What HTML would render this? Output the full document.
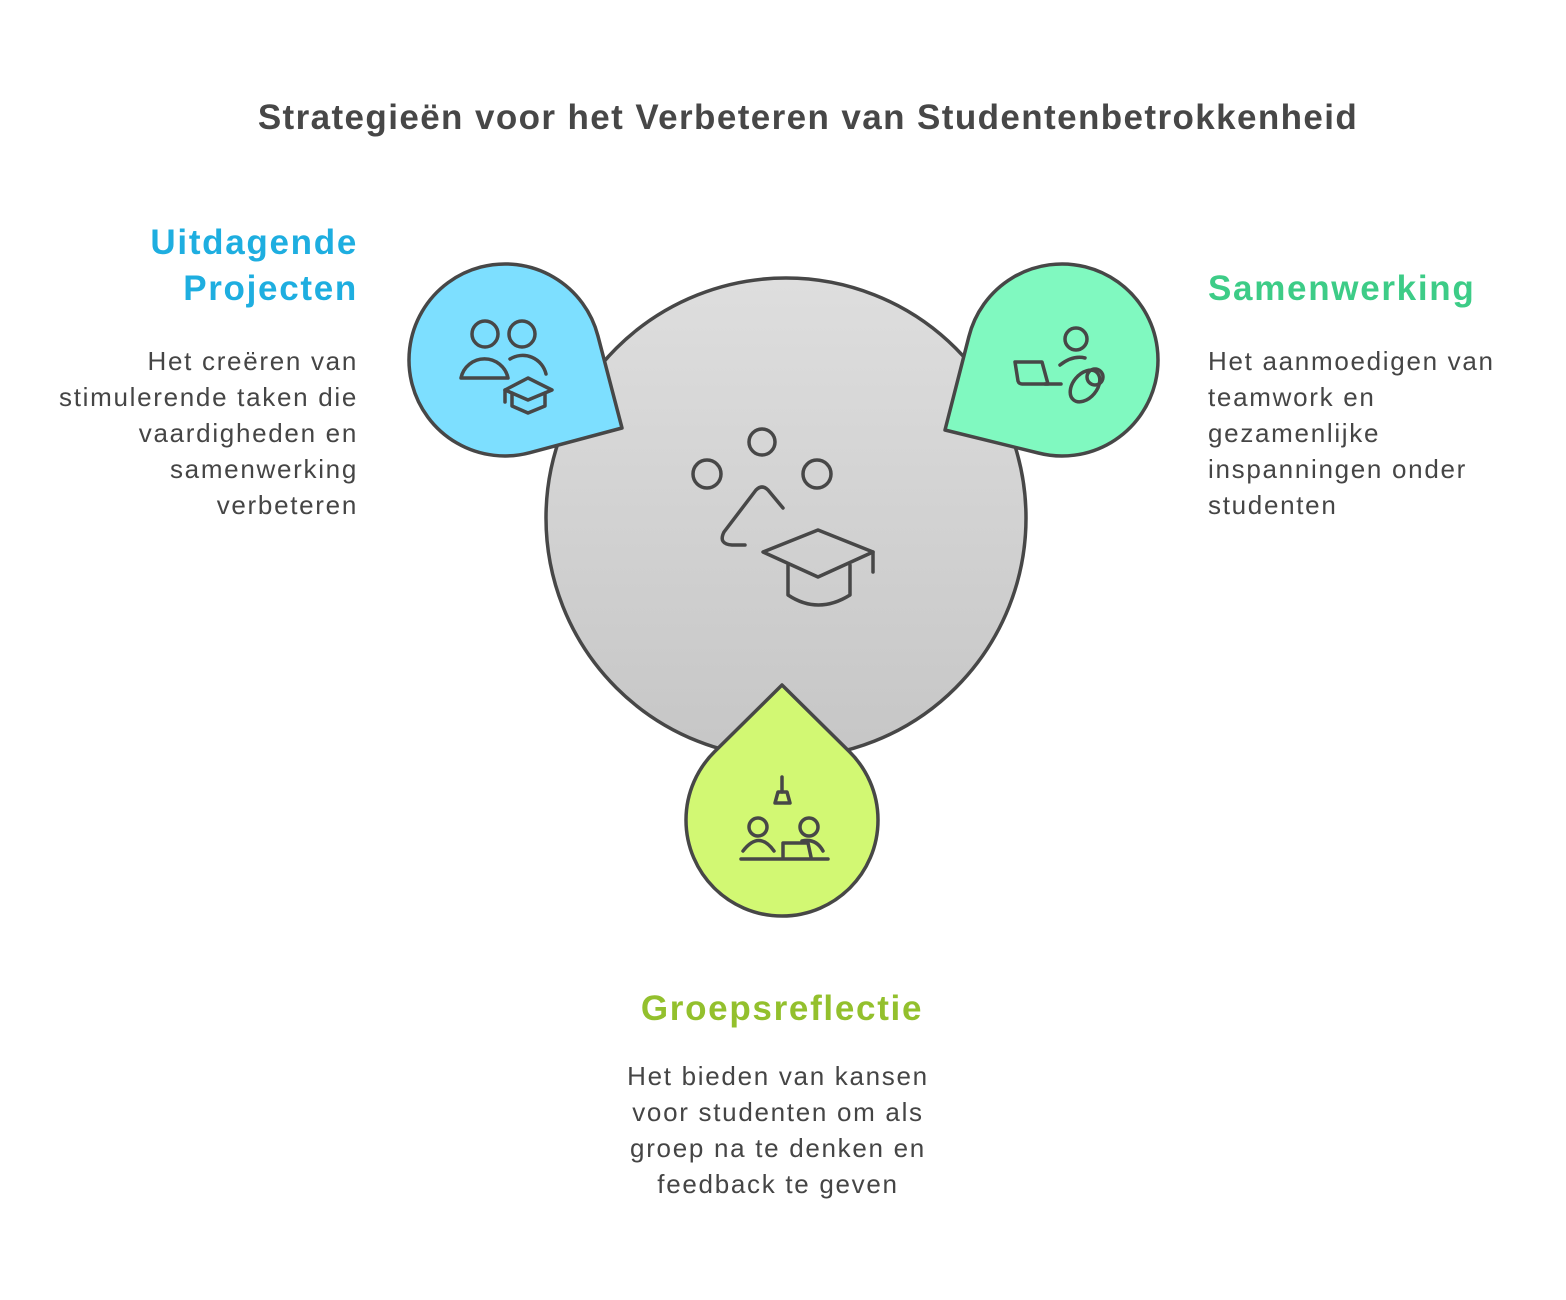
<!DOCTYPE html>
<html><head><meta charset="utf-8"><style>
body{margin:0;width:1566px;height:1300px;background:#fff;font-family:"Liberation Sans",sans-serif;position:relative;overflow:hidden}
.t{position:absolute;white-space:nowrap}
h1{position:absolute;left:0;width:1616px;top:98px;margin:0;text-align:center;font-size:35px;font-weight:bold;color:#474747;letter-spacing:1.4px}
.h{font-weight:bold;font-size:35px;line-height:46px;letter-spacing:1.7px}
.b{font-size:26px;line-height:36px;color:#454545;letter-spacing:1.7px}
</style></head><body>
<h1>Strategieën voor het Verbeteren van Studentenbetrokkenheid</h1>
<svg width="1566" height="1300" style="position:absolute;left:0;top:0">
<defs><linearGradient id="g" x1="0" y1="0" x2="0" y2="1"><stop offset="0" stop-color="#dedede"/><stop offset="1" stop-color="#c6c6c6"/></linearGradient></defs>
<g stroke="#474747" stroke-width="3.5" stroke-linecap="round" stroke-linejoin="round">
<circle cx="786" cy="518" r="240" fill="url(#g)"/>
<path d="M597.9 335.8 L622 428 L529.8 452.7 A96 96 0 1 1 597.9 335.8Z" fill="#7ddfff"/>
<path d="M968.8 336.9 L945 430 L1038.3 453 A96 96 0 1 0 968.8 336.9Z" fill="#80f9c0"/>
<path d="M849.5 751.8 L782 685 L714.5 751.8 A96 96 0 1 0 849.5 751.8Z" fill="#d2f873"/>
<g fill="none">
<circle cx="762" cy="442" r="13"/><circle cx="707" cy="474" r="14"/><circle cx="817" cy="474" r="14"/>
<path d="M783 508 L768 490 Q762 484 756 490 L724 532 Q718 544 732 545 L745 545"/>
<path d="M763 552 L818 530 L873 552 L818 577Z"/><path d="M873 552 L873 572"/>
<path d="M788 565 L788 595 Q818 615 850 595 L850 565"/>
<circle cx="485" cy="334" r="13"/><circle cx="522" cy="334" r="13"/>
<path d="M461 378 A24 24 0 0 1 508 378 Z"/><path d="M510 359 A24 24 0 0 1 546 374"/>
<path d="M505 390 L528 378 L552 390 L528 400Z"/><path d="M505 390 L505 402"/><path d="M512 393 L512 406 L528 413 L545 406 L545 393"/>
<circle cx="1076" cy="339" r="11"/><path d="M1060 365 Q1073 355 1085 358"/>
<path d="M1015 362 L1042 362 L1048 384 L1022 384 Q1019 384 1018 381Z"/><path d="M1045 384 L1061 384"/>
<ellipse cx="1085" cy="386" rx="12" ry="18" transform="rotate(40 1085 386)"/><circle cx="1095" cy="377" r="8"/>
<path d="M782 777 L782 792"/><path d="M775 803 L778 792 L787 792 L790 803Z"/>
<circle cx="758" cy="827" r="9"/><path d="M743 851 Q759 830 774 851"/><circle cx="809" cy="827" r="9"/><path d="M802 841 Q816 838 823 851"/>
<path d="M783 857 L783 843 L808 843 L811 857"/><path d="M741 859 L828 859"/>
</g></g></svg>
<div class="t h" style="right:1208px;top:220px;text-align:right;color:#1eaee0">Uitdagende<br>Projecten</div>
<div class="t b" style="right:1208px;top:343px;text-align:right">Het creëren van<br>stimulerende taken die<br>vaardigheden en<br>samenwerking<br>verbeteren</div>
<div class="t h" style="left:1208px;top:266px;color:#3dcc87">Samenwerking</div>
<div class="t b" style="left:1208px;top:343px">Het aanmoedigen van<br>teamwork en<br>gezamenlijke<br>inspanningen onder<br>studenten</div>
<div class="t h" style="left:582px;width:400px;text-align:center;top:986px;color:#93c02d">Groepsreflectie</div>
<div class="t b" style="left:578px;width:400px;text-align:center;top:1058px">Het bieden van kansen<br>voor studenten om als<br>groep na te denken en<br>feedback te geven</div>
</body></html>
